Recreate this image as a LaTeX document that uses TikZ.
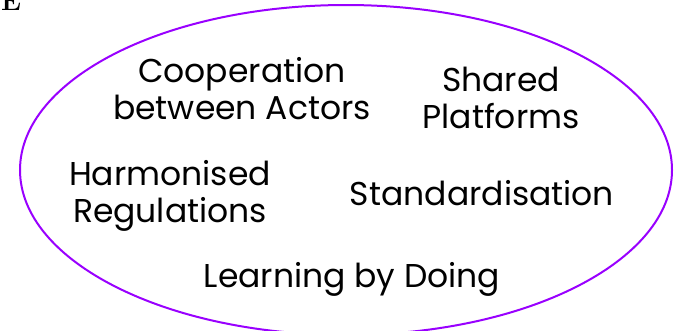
\documentclass[tikz,border=0pt]{standalone}
\usepackage{fontspec}
\newfontfamily\roundfont{Poppins}
\usetikzlibrary{
    positioning,
}
\definecolor{ringviolet}{RGB}{153,0,255}
\tikzset{
  factor/.style={font=\roundfont\fontsize{33}{37}\selectfont, align=center, inner sep=0pt},
  panel/.style={font=\bfseries\fontsize{27}{30}\selectfont, inner sep=0pt},
}

\begin{document}
\begin{tikzpicture}[x=1pt,y=-1pt]
  \useasboundingbox (0,0) rectangle (674,330);

  \draw[ringviolet, line width=2pt] (346,170) ellipse (326pt and 165pt);
  \node[panel, anchor=base west] (tag) at (1,10) {E};

  \node[factor] (coop)   at (242,89)  {Cooperation\\between Actors};
  \node[factor] (shared) at (501,98)  {Shared\\Platforms};
  \node[factor] (harm)   at (170,196) {Harmonised\\Regulations};
  \node[factor] (std)    at (482,193) {Standardisation};
  \node[factor] (learn)  at (352,279) {Learning by Doing};
\end{tikzpicture}
\end{document}
